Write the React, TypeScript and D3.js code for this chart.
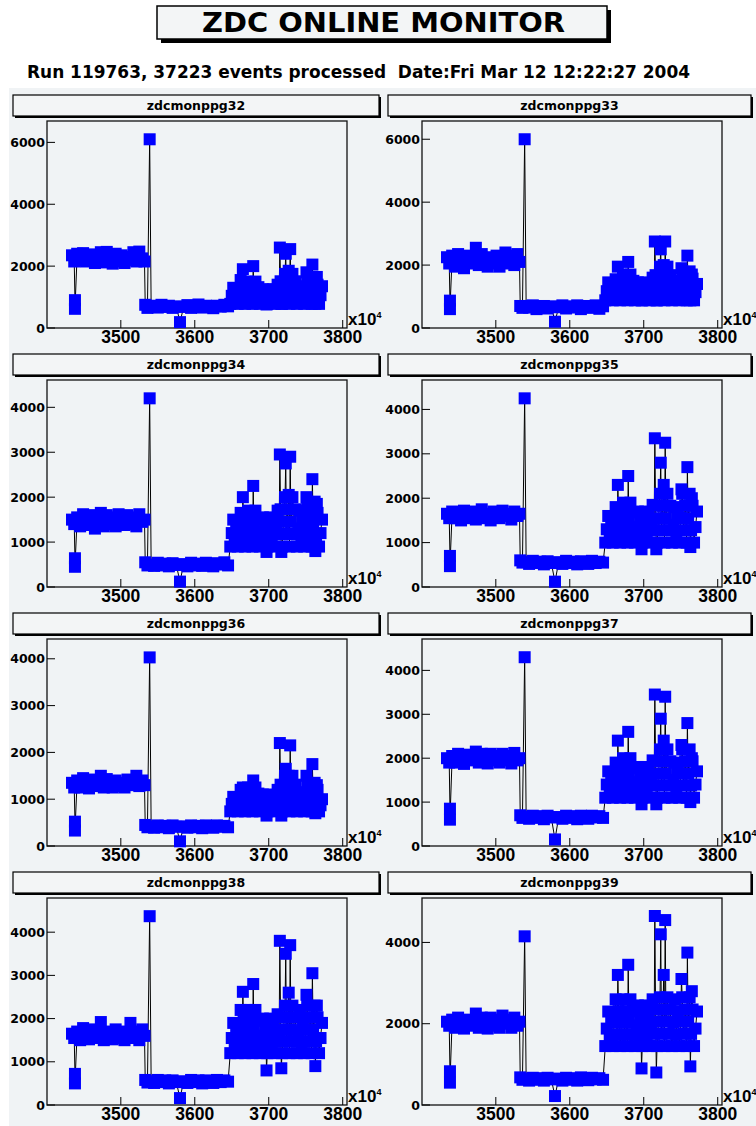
import React from 'react';
import * as d3 from 'd3';

// run number axis (x10^4), shared by all channels
const xBandHigh = [3434, 3437, 3438, 3438, 3441, 3445, 3449, 3453, 3457, 3461, 3465, 3469, 3473, 3477, 3481, 3485, 3489, 3493, 3497, 3501, 3505, 3509, 3513, 3517, 3521, 3525, 3529, 3532];
const xBandLow = [3533, 3536, 3539, 3541, 3545, 3550, 3555, 3560, 3565, 3570, 3575, 3580, 3585, 3590, 3595, 3600, 3605, 3610, 3615, 3620, 3625, 3630, 3635, 3640, 3645];
const xBandMixed = [
  3648, 3650, 3652, 3654, 3656, 3658, 3660, 3662, 3664, 3666, 3668, 3670, 3672, 3674, 3676, 3678, 3680, 3682, 3684, 3686,
  3688, 3690, 3692, 3694, 3696, 3698, 3700, 3702, 3704, 3706, 3708, 3710, 3712, 3714, 3716, 3718, 3720, 3722, 3724, 3726,
  3728, 3730, 3732, 3734, 3736, 3738, 3740, 3742, 3744, 3746, 3748, 3750, 3752, 3754, 3756, 3758, 3760, 3762, 3764, 3766,
  3768, 3770, 3772,
];
// isolated high / low runs inside the mixed band
const xSpikes = [3665, 3679, 3697, 3715, 3717, 3723, 3727, 3729, 3751, 3759, 3763, 3765];
const runX = [...xBandHigh, ...xBandLow, ...xBandMixed];

const ppg32 = [
  2350, 2150, 900, 620, 2400, 2200, 2420, 2150, 2380, 2250, 2100, 2300, 2450, 2120, 2460, 2200, 2080, 2400, 2150, 2350, 2100, 2300, 2200, 2450, 2150, 2470, 2250, 2150,
  750, 650, 6100, 700, 720, 660, 750, 680, 720, 650, 700, 190, 680, 740, 650, 700, 760, 660, 720, 680, 640, 720, 690, 750, 700,
  780, 1040, 1300, 910, 1170, 780, 1160, 1550, 970, 1360, 780, 1160, 1500, 960, 1320, 780, 1140, 1500, 960, 1320,
  780, 1020, 1250, 900, 1130, 780, 1020, 1250, 900, 1250, 780, 1090, 1400, 1020, 1510, 780, 1260, 1750, 1020, 1510,
  780, 1260, 1750, 1020, 1510, 780, 1060, 1350, 920, 1210, 780, 1190, 1600, 980, 1400, 780, 1190, 1600, 980, 1400,
  780, 1060, 1350,
];
const ppg33 = [
  2250, 2050, 870, 600, 2300, 1950, 2350, 2100, 1900, 2300, 2050, 2250, 2550, 2000, 2350, 2100, 1950, 2250, 2050, 2300, 1950, 2200, 2400, 2050, 2300, 2000, 2350, 2100,
  700, 640, 6000, 700, 650, 720, 600, 680, 700, 620, 690, 200, 660, 720, 620, 690, 650, 720, 600, 680, 700, 640, 720, 610, 690,
  880, 1170, 1450, 1020, 1310, 880, 1220, 1550, 1050, 1380, 880, 1220, 1700, 1090, 1500, 880, 1290, 1700, 1090, 1500,
  880, 1170, 1450, 1020, 1310, 880, 1170, 1450, 1020, 1420, 880, 1240, 1600, 1150, 1680, 880, 1420, 1950, 1150, 1680,
  880, 1420, 1950, 1150, 1680, 880, 1190, 1500, 1040, 1350, 880, 1340, 1800, 1110, 1570, 880, 1340, 1800, 1110, 1570,
  880, 1140, 1400,
];
const ppg34 = [
  1500, 1400, 640, 450, 1550, 1350, 1620, 1450, 1380, 1600, 1300, 1550, 1650, 1350, 1600, 1400, 1550, 1350, 1620, 1450, 1380, 1600, 1400, 1550, 1350, 1620, 1450, 1500,
  550, 480, 4200, 500, 470, 540, 480, 520, 460, 530, 490, 120, 510, 460, 540, 480, 520, 470, 540, 490, 460, 530, 500, 550, 480,
  900, 1200, 1500, 1050, 1350, 900, 1280, 1650, 1090, 1460, 900, 1280, 1700, 1100, 1500, 900, 1300, 1700, 1100, 1500,
  900, 1230, 1550, 1060, 1390, 900, 1230, 1550, 1060, 1500, 900, 1300, 1700, 1180, 1730, 900, 1450, 2000, 1180, 1730,
  900, 1450, 2000, 1180, 1730, 900, 1300, 1700, 1100, 1500, 900, 1400, 1900, 1150, 1650, 900, 1400, 1900, 1150, 1650,
  900, 1200, 1500,
];
const ppg35 = [
  1650, 1550, 700, 470, 1700, 1550, 1650, 1500, 1720, 1600, 1550, 1700, 1520, 1650, 1750, 1550, 1650, 1500, 1700, 1600, 1550, 1720, 1600, 1650, 1520, 1700, 1600, 1650,
  600, 550, 4250, 560, 520, 590, 540, 570, 510, 580, 540, 120, 560, 520, 590, 540, 570, 510, 580, 550, 520, 590, 540, 570, 550,
  1000, 1300, 1600, 1150, 1450, 1000, 1400, 1800, 1200, 1600, 1000, 1400, 1900, 1230, 1680, 1000, 1450, 1900, 1230, 1680,
  1000, 1350, 1700, 1180, 1530, 1000, 1350, 1700, 1180, 1640, 1000, 1430, 1850, 1280, 1830, 1000, 1550, 2100, 1280, 1830,
  1000, 1550, 2100, 1280, 1830, 1000, 1400, 1800, 1200, 1600, 1000, 1550, 2100, 1280, 1830, 1000, 1550, 2100, 1280, 1830,
  1000, 1350, 1700,
];
const ppg36 = [
  1350, 1250, 520, 330, 1400, 1250, 1450, 1300, 1230, 1420, 1280, 1380, 1500, 1250, 1430, 1300, 1250, 1400, 1280, 1350, 1250, 1420, 1300, 1380, 1500, 1280, 1400, 1300,
  450, 400, 4030, 420, 390, 440, 400, 430, 380, 440, 410, 100, 420, 390, 440, 400, 430, 380, 440, 410, 390, 440, 410, 430, 400,
  740, 900, 1050, 820, 970, 740, 970, 1200, 860, 1090, 740, 970, 1250, 870, 1120, 740, 1000, 1250, 870, 1120,
  740, 920, 1100, 830, 1010, 740, 920, 1100, 830, 1090, 740, 970, 1200, 930, 1310, 740, 1120, 1500, 930, 1310,
  740, 1120, 1500, 930, 1310, 740, 950, 1150, 840, 1050, 740, 1050, 1350, 890, 1200, 740, 1050, 1350, 890, 1200,
  740, 870, 1000,
];
const ppg37 = [
  2000, 1900, 850, 600, 2050, 1900, 2100, 1950, 1870, 2080, 1950, 2000, 2150, 1900, 2100, 1950, 1880, 2100, 1950, 2050, 1900, 2100, 1950, 2050, 1880, 2120, 1950, 2000,
  700, 640, 4300, 670, 620, 690, 640, 680, 610, 690, 650, 150, 660, 620, 690, 640, 680, 610, 690, 650, 620, 690, 650, 680, 640,
  1100, 1400, 1700, 1250, 1550, 1100, 1500, 1900, 1300, 1700, 1100, 1500, 2000, 1330, 1780, 1100, 1550, 2000, 1330, 1780,
  1100, 1450, 1800, 1280, 1630, 1100, 1450, 1800, 1280, 1740, 1100, 1530, 1950, 1380, 1930, 1100, 1650, 2200, 1380, 1930,
  1100, 1650, 2200, 1380, 1930, 1100, 1500, 1900, 1300, 1700, 1100, 1650, 2200, 1380, 1930, 1100, 1650, 2200, 1380, 1930,
  1100, 1400, 1700,
];
const ppg38 = [
  1650, 1550, 720, 500, 1700, 1500, 1780, 1600, 1520, 1750, 1550, 1650, 1920, 1500, 1700, 1600, 1520, 1750, 1550, 1700, 1500, 1650, 1900, 1550, 1700, 1500, 1750, 1600,
  580, 520, 4370, 550, 510, 580, 530, 570, 500, 570, 530, 160, 550, 510, 580, 530, 570, 500, 570, 540, 510, 580, 530, 570, 540,
  1200, 1550, 1900, 1380, 1730, 1200, 1700, 2200, 1450, 1950, 1200, 1700, 2200, 1450, 1950, 1200, 1700, 2200, 1450, 1950,
  1200, 1600, 2000, 1400, 1800, 1200, 1600, 2000, 1400, 1880, 1200, 1650, 2100, 1480, 2030, 1200, 1750, 2300, 1480, 2030,
  1200, 1750, 2300, 1480, 2030, 1200, 1700, 2200, 1450, 1950, 1200, 1750, 2300, 1480, 2030, 1200, 1750, 2300, 1480, 2030,
  1200, 1550, 1900,
];
const ppg39 = [
  2050, 1950, 830, 550, 2100, 1900, 2150, 2000, 1880, 2100, 1950, 2050, 2250, 1900, 2150, 2000, 1880, 2150, 1950, 2100, 1900, 2200, 2000, 2100, 1900, 2150, 1950, 2050,
  680, 620, 4150, 650, 600, 670, 620, 660, 600, 670, 630, 220, 650, 600, 670, 620, 660, 600, 680, 640, 610, 670, 630, 660, 620,
  1450, 1880, 2300, 1660, 2090, 1450, 2030, 2600, 1740, 2310, 1450, 2030, 2600, 1740, 2310, 1450, 2030, 2600, 1740, 2310,
  1450, 1950, 2450, 1700, 2200, 1450, 1950, 2450, 1700, 2310, 1450, 2030, 2600, 1750, 2350, 1450, 2050, 2650, 1750, 2350,
  1450, 2050, 2650, 1750, 2350, 1450, 2030, 2600, 1740, 2310, 1450, 2050, 2650, 1750, 2350, 1450, 2050, 2650, 1750, 2350,
  1450, 1880, 2300,
];

// values at xSpikes, per channel
const spikes32 = [1900, 2000, 760, 2600, 780, 2400, 1850, 2550, 1800, 2050, 780, 1650];
const spikes33 = [1950, 2100, 880, 2750, 880, 2500, 2000, 2750, 1900, 2300, 880, 1700];
const spikes34 = [2000, 2250, 780, 2950, 780, 2750, 2050, 2900, 2000, 2400, 800, 1850];
const spikes35 = [2300, 2500, 850, 3350, 850, 2800, 2300, 3250, 2200, 2700, 900, 2000];
const spikes36 = [1250, 1400, 650, 2200, 650, 1650, 1500, 2150, 1500, 1750, 700, 1300];
const spikes37 = [2400, 2600, 950, 3450, 950, 2900, 2400, 3400, 2300, 2800, 1000, 2000];
const spikes38 = [2620, 2800, 800, 3800, 850, 3500, 2600, 3700, 2550, 3050, 900, 2300];
const spikes39 = [3200, 3450, 900, 4650, 800, 4200, 3200, 4550, 3100, 3750, 950, 2800];

const panelNames = ['zdcmonppg32', 'zdcmonppg33', 'zdcmonppg34', 'zdcmonppg35', 'zdcmonppg36', 'zdcmonppg37', 'zdcmonppg38', 'zdcmonppg39'];
const panelValues = [ppg32, ppg33, ppg34, ppg35, ppg36, ppg37, ppg38, ppg39];
const panelSpikes = [spikes32, spikes33, spikes34, spikes35, spikes36, spikes37, spikes38, spikes39];

const yTicks6k = [0, 2000, 4000, 6000];
const yTicks4k = [0, 1000, 2000, 3000, 4000];
const yTicks4kWide = [0, 2000, 4000];
const panelYTicks = [yTicks6k, yTicks6k, yTicks4k, yTicks4k, yTicks4k, yTicks4k, yTicks4k, yTicks4kWide];
const xTicks = [3500, 3600, 3700, 3800];

const mainTitle = 'ZDC ONLINE MONITOR';
const subTitle = 'Run 119763, 37223 events processed  Date:Fri Mar 12 12:22:27 2004';

const wide = '"DejaVu Sans", sans-serif';
const helv = '"Liberation Sans", Arial, sans-serif';
const padGrey = '#f0f3f5';

const frameLeft = [47, 422];
const frameW = 300;
const frameH = 207;
const rowStep = 259;
const titleBox = [{ x: 13, w: 366 }, { x: 388, w: 363 }];

function Panel({ idx }) {
  const col = idx % 2;
  const row = Math.floor(idx / 2);
  const fx = frameLeft[col];
  const fy = 121 + row * rowStep;

  // merge the regular run points with the spikes, in run order
  const raw = runX.map((v, i) => [v, panelValues[idx][i]]).concat(xSpikes.map((v, i) => [v, panelSpikes[idx][i]]));
  const pts = d3.sort(raw, (d) => d[0]);
  const values = pts.map((d) => d[1]);

  // ROOT-like auto range: 10% margin, y floored at 0
  const [xmin, xmax] = d3.extent(pts, (d) => d[0]);
  const dx = xmax - xmin;
  const x = d3.scaleLinear().domain([xmin - 0.1 * dx, xmax + 0.1 * dx]).range([fx, fx + frameW]);
  const [vmin, vmax] = d3.extent(values);
  const y = d3.scaleLinear().domain([0, vmax + 0.1 * (vmax - vmin)]).range([fy + frameH, fy]);

  const line = d3.line().x((d) => x(d[0])).y((d) => y(d[1]));
  const ms = 12;
  const tb = titleBox[col];
  const ty = 95 + row * rowStep;

  return (
    <g>
      {/* title box */}
      <rect x={tb.x + 2} y={ty + 2} width={tb.w} height={21} fill="#000" />
      <rect x={tb.x} y={ty} width={tb.w} height={21} fill="#f3f5f6" stroke="#000" strokeWidth={1.2} />
      <text x={tb.x + tb.w / 2} y={ty + 15} textAnchor="middle" fontFamily={wide} fontWeight="bold" fontSize={12.5}>
        {panelNames[idx]}
      </text>

      {/* frame */}
      <rect x={fx} y={fy} width={frameW} height={frameH} fill={padGrey} stroke="#111" strokeWidth={1.3} />

      {/* data */}
      <path d={line(pts)} fill="none" stroke="#000" strokeWidth={1} />
      {pts.map((d, i) => (
        <rect key={i} x={x(d[0]) - ms / 2} y={y(d[1]) - ms / 2} width={ms} height={ms} fill="#0000ff" />
      ))}

      {/* y axis */}
      {panelYTicks[idx].map((t) => (
        <g key={t}>
          <line x1={fx} x2={fx + 8} y1={y(t)} y2={y(t)} stroke="#000" strokeWidth={1} />
          <text x={fx - 2} y={y(t)} dy="0.36em" textAnchor="end" fontFamily={wide} fontWeight="bold" fontSize={12.5}>
            {t}
          </text>
        </g>
      ))}

      {/* x axis */}
      {xTicks.map((t) => (
        <g key={t}>
          <line x1={x(t)} x2={x(t)} y1={fy + frameH} y2={fy + frameH - 8} stroke="#000" strokeWidth={1} />
          <text x={x(t)} y={fy + frameH + 15} textAnchor="middle" fontFamily={helv} fontWeight="bold" fontSize={17.5}>
            {t}
          </text>
        </g>
      ))}
      <text x={fx + frameW + 1} y={fy + frameH - 3} fontFamily={helv} fontWeight="bold" fontSize={17}>
        x10
        <tspan dy={-7} fontSize={9}>4</tspan>
      </text>
    </g>
  );
}

export default function App() {
  return (
    <div>
      <style>{'body{margin:0;background:#fff}'}</style>
      <svg width={756} height={1126} style={{ display: 'block' }}>
        <rect x={0} y={0} width={756} height={1126} fill="#fff" />
        <rect x={9} y={88} width={747} height={1038} fill={padGrey} />

        <rect x={161} y={10} width={450} height={33} fill="#000" />
        <rect x={157} y={6} width={450} height={33} fill="#f3f5f6" stroke="#000" strokeWidth={1.5} />
        <text x={202} y={32} fontFamily={wide} fontWeight="bold" fontSize={26.5} textLength={363} lengthAdjust="spacingAndGlyphs">
          {mainTitle}
        </text>
        <text x={27} y={78} fontFamily={wide} fontWeight="bold" fontSize={17} textLength={663} lengthAdjust="spacingAndGlyphs" style={{ whiteSpace: 'pre' }}>
          {subTitle}
        </text>

        {panelNames.map((n, i) => (
          <Panel key={n} idx={i} />
        ))}
      </svg>
    </div>
  );
}
